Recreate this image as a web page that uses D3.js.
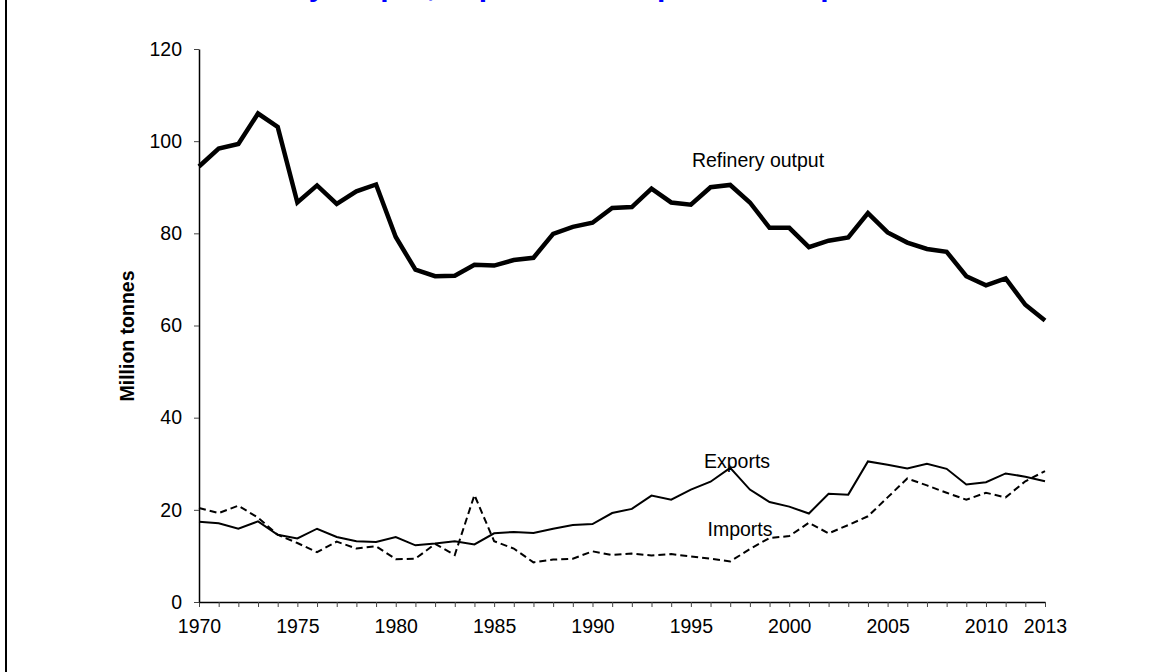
<!DOCTYPE html>
<html>
<head>
  <title>Refinery output, imports and exports</title>
  <script src="https://d3js.org/d3.v7.min.js"></script>
  <style>
    body { margin: 0; background: #fff; }
    svg { display: block; font-family: "Liberation Sans", Arial, sans-serif; }
  </style>
</head>
<body>
  <div id="chart1"></div>
  <script>
    const years = d3.range(1970, 2014);
    const refinery = [94.5, 98.4, 99.4, 106.0, 103.1, 86.7, 90.4, 86.4, 89.1, 90.6,
      79.2, 72.1, 70.7, 70.8, 73.2, 73.0, 74.2, 74.7, 79.9, 81.4,
      82.3, 85.5, 85.7, 89.7, 86.7, 86.2, 90.0, 90.5, 86.7, 81.2,
      81.2, 77.0, 78.4, 79.1, 84.4, 80.2, 78.0, 76.6, 76.0, 70.7,
      68.7, 70.2, 64.5, 61.1];
    const exportsData = [17.4, 17.1, 15.9, 17.5, 14.6, 13.8, 15.9, 14.1, 13.2, 13.0,
      14.1, 12.3, 12.7, 13.2, 12.5, 14.9, 15.2, 15.0, 15.9, 16.7,
      16.9, 19.3, 20.2, 23.1, 22.2, 24.4, 26.1, 29.1, 24.4, 21.7,
      20.7, 19.2, 23.5, 23.3, 30.5, 29.8, 29.0, 30.0, 28.9, 25.5,
      26.0, 27.9, 27.2, 26.2];
    const importsData = [20.4, 19.3, 20.9, 18.3, 14.6, 12.8, 10.8, 13.1, 11.6, 12.1,
      9.3, 9.4, 12.6, 10.2, 23.2, 13.2, 11.6, 8.6, 9.2, 9.4,
      11.0, 10.2, 10.5, 10.1, 10.4, 9.9, 9.4, 8.8, 11.5, 13.9,
      14.3, 17.2, 14.9, 16.7, 18.6, 22.7, 26.8, 25.3, 23.7, 22.2,
      23.7, 22.7, 26.2, 28.4];
    const xTickLabels = [1970, 1975, 1980, 1985, 1990, 1995, 2000, 2005, 2010, 2013];
    const yTicks = [0, 20, 40, 60, 80, 100, 120];

    const W = 1157, H = 672;
    const margin = { top: 49, right: 112, bottom: 70, left: 199 };
    const width = W - margin.left - margin.right;
    const height = H - margin.top - margin.bottom;

    const svg = d3.select("#chart1")
      .append("svg")
      .attr("width", W)
      .attr("height", H);

    // title sits above the picture's top edge, only its descenders show
    svg.append("text")
      .attr("x", 577)
      .attr("y", -4.5)
      .attr("text-anchor", "middle")
      .style("font-size", "30px")
      .style("font-weight", "bold")
      .attr("fill", "#0000ff")
      .text("Refinery output, imports and exports of oil products");

    // frame edge on the left
    svg.append("line")
      .attr("x1", 6).attr("x2", 6)
      .attr("y1", 0).attr("y2", H)
      .attr("stroke", "#000")
      .attr("stroke-width", 2);

    const g = svg.append("g")
      .attr("transform", "translate(" + margin.left + "," + margin.top + ")");

    const xScale = d3.scaleLinear().domain([1970, 2013]).range([0, width]);
    const yScale = d3.scaleLinear().domain([0, 120]).range([height, 0]);

    const xAxis = g.append("g")
      .attr("transform", "translate(0," + height + ")")
      .call(d3.axisBottom(xScale).tickValues(years).tickSize(5).tickPadding(12).tickSizeOuter(0)
        .tickFormat(d => xTickLabels.includes(d) ? d : ""));
    xAxis.selectAll("text").style("font-size", "19.5px").attr("fill", "#000");

    const yAxis = g.append("g")
      .call(d3.axisLeft(yScale).tickValues(yTicks).tickSize(5).tickPadding(12).tickSizeOuter(0));
    yAxis.selectAll("text").style("font-size", "19.5px").attr("fill", "#000");
    g.selectAll(".domain").attr("stroke", "#000").attr("stroke-width", 1.5);
    g.selectAll(".tick line").attr("stroke", "#444");

    svg.append("text")
      .attr("transform", "translate(127,336) rotate(-90)")
      .attr("text-anchor", "middle")
      .attr("dy", "0.35em")
      .style("font-size", "19.5px")
      .style("font-weight", "bold")
      .text("Million tonnes");

    const line = d3.line()
      .x((d, i) => xScale(years[i]))
      .y(d => yScale(d));

    g.append("path").datum(refinery)
      .attr("d", line).attr("fill", "none")
      .attr("stroke", "#000").attr("stroke-width", 4.5);

    g.append("path").datum(exportsData)
      .attr("d", line).attr("fill", "none")
      .attr("stroke", "#000").attr("stroke-width", 2);

    g.append("path").datum(importsData)
      .attr("d", line).attr("fill", "none")
      .attr("stroke", "#000").attr("stroke-width", 2)
      .attr("stroke-dasharray", "7,4");

    const labels = [
      { t: "Refinery output", x: 758, y: 160 },
      { t: "Exports", x: 737, y: 461 },
      { t: "Imports", x: 740, y: 529 }
    ];
    svg.selectAll(".lbl").data(labels).enter()
      .append("text")
      .attr("class", "lbl")
      .attr("x", d => d.x).attr("y", d => d.y)
      .attr("dy", "0.35em")
      .attr("text-anchor", "middle")
      .style("font-size", "19.5px")
      .text(d => d.t);
  </script>
</body>
</html>
